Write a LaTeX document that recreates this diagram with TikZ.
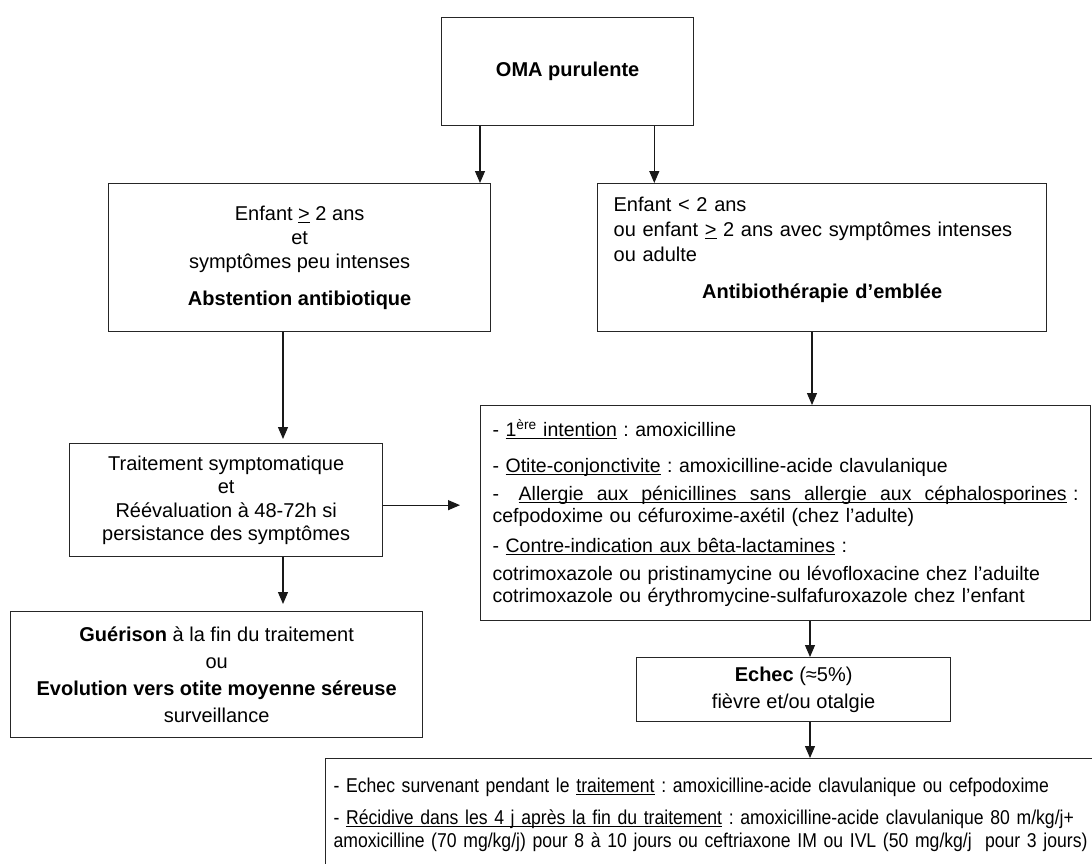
\documentclass[tikz,border=0pt]{standalone}
\usepackage{fontspec}
\setmainfont{Liberation Sans}
\newfontfamily\narrowsans[FakeStretch=0.88]{Liberation Sans}
\usetikzlibrary{arrows.meta,positioning}
\frenchspacing

\newsavebox\ulbox
\newcommand{\ulword}[1]{\sbox\ulbox{#1}\rlap{\rule[-2.4pt]{\wd\ulbox}{1.1pt}}\usebox\ulbox}

\tikzset{
  box/.style={draw=black!85, line width=1.3pt, rectangle, inner sep=0pt, anchor=north west,
    font=\fontsize{20}{24}\selectfont},
  flow/.style={-{Triangle[length=12pt,width=10pt]}, line width=1.2pt, draw=black!90},
}

\begin{document}
\begin{tikzpicture}[x=1pt,y=-1pt]
  \fill[white] (0,0) rectangle (1092,863);
  \useasboundingbox (0,0) rectangle (1092,863);

  % boxes
  \node[box, minimum width=252pt, minimum height=108pt] (oma) at (441,17) {\textbf{OMA purulente}};
  \node[box, minimum width=382pt, minimum height=148pt, align=center] (abst) at (108,183)
    {Enfant \underline{>} 2 ans\\et\\symptômes peu intenses\\[13pt]\textbf{Abstention antibiotique}};
  \node[box, text width=417pt, inner xsep=16pt, minimum height=148pt, align=left,
    font=\fontsize{20}{25}\selectfont] (atb) at (597,183)
    {Enfant < 2 ans\\ou enfant \underline{>} 2 ans avec symptômes intenses\\ou adulte\\[12pt]%
     \makebox[417pt]{\textbf{Antibiothérapie d’emblée}}\\[-5pt]\mbox{}};
  \node[box, minimum width=313pt, minimum height=113pt, align=center,
    font=\fontsize{20}{23.5}\selectfont] (sympt) at (69,443)
    {Traitement symptomatique\\et\\Réévaluation à 48-72h si\\persistance des symptômes};
  \node[box, text width=586pt, inner xsep=12pt, minimum height=215pt, align=left,
    font=\fontsize{19.5}{22}\selectfont] (trt) at (480,405)
    {- \ulword{1\textsuperscript{ère} intention} : amoxicilline\\[14pt]
     - \ulword{Otite-conjonctivite} : amoxicilline-acide clavulanique\\[6pt]
     \leavevmode\hbox to 586pt{-\hfill\ulword{\hbox to 548pt{Allergie\hfill aux\hfill pénicillines\hfill
       sans\hfill allergie\hfill aux\hfill céphalosporines}}\ :}\\
     cefpodoxime ou céfuroxime-axétil (chez l’adulte)\\[8pt]
     - \ulword{Contre-indication aux bêta-lactamines} :\\[6pt]
     cotrimoxazole ou pristinamycine ou lévofloxacine chez l’aduilte\\
     cotrimoxazole ou érythromycine-sulfafuroxazole chez l’enfant};
  \node[box, minimum width=412pt, minimum height=126pt, align=center,
    font=\fontsize{20}{27}\selectfont] (guer) at (10,611)
    {\textbf{Guérison} à la fin du traitement\\ou\\\textbf{Evolution vers otite moyenne séreuse}\\surveillance};
  \node[box, minimum width=314pt, minimum height=64pt, align=center,
    font=\fontsize{20}{27}\selectfont] (echec) at (636,657)
    {\textbf{Echec} (≈5\%)\\fièvre et/ou otalgie};
  \node[box, text width=767pt, inner xsep=8pt, minimum height=112pt, align=left,
    font=\narrowsans\fontsize{20}{23}\selectfont] (recid) at (325,758)
    {\mbox{- Echec survenant pendant le \ulword{traitement} : amoxicilline-acide clavulanique ou cefpodoxime}\\[9pt]
     \mbox{- \ulword{Récidive dans les 4 j après la fin du traitement} : amoxicilline-acide clavulanique 80 m/kg/j+}\\
     \mbox{amoxicilline (70 mg/kg/j) pour 8 à 10 jours ou ceftriaxone IM ou IVL (50 mg/kg/j\ \ pour 3 jours)}};

  % arrows
  \draw[flow] ([xshift=39pt]oma.south west) -- ([xshift=39pt]oma.south west |- abst.north);
  \draw[flow] ([xshift=-40pt]oma.south east) -- ([xshift=-40pt]oma.south east |- atb.north);
  \draw[flow, shorten >=4pt] ([xshift=175pt]abst.south west) -- ([xshift=175pt]abst.south west |- sympt.north);
  \draw[flow] ([xshift=215pt]atb.south west) -- ([xshift=215pt]atb.south west |- trt.north);
  \draw[flow, shorten >=20pt] ([yshift=-5pt]sympt.east) -- ([yshift=-5pt]sympt.east -| trt.west);
  \draw[flow, shorten >=7pt] ([xshift=214pt]sympt.south west) -- ([xshift=214pt]sympt.south west |- guer.north);
  \draw[flow] ([xshift=330pt]trt.south west) -- ([xshift=330pt]trt.south west |- echec.north);
  \draw[flow] ([xshift=174pt]echec.south west) -- ([xshift=174pt]echec.south west |- recid.north);
\end{tikzpicture}
\end{document}
